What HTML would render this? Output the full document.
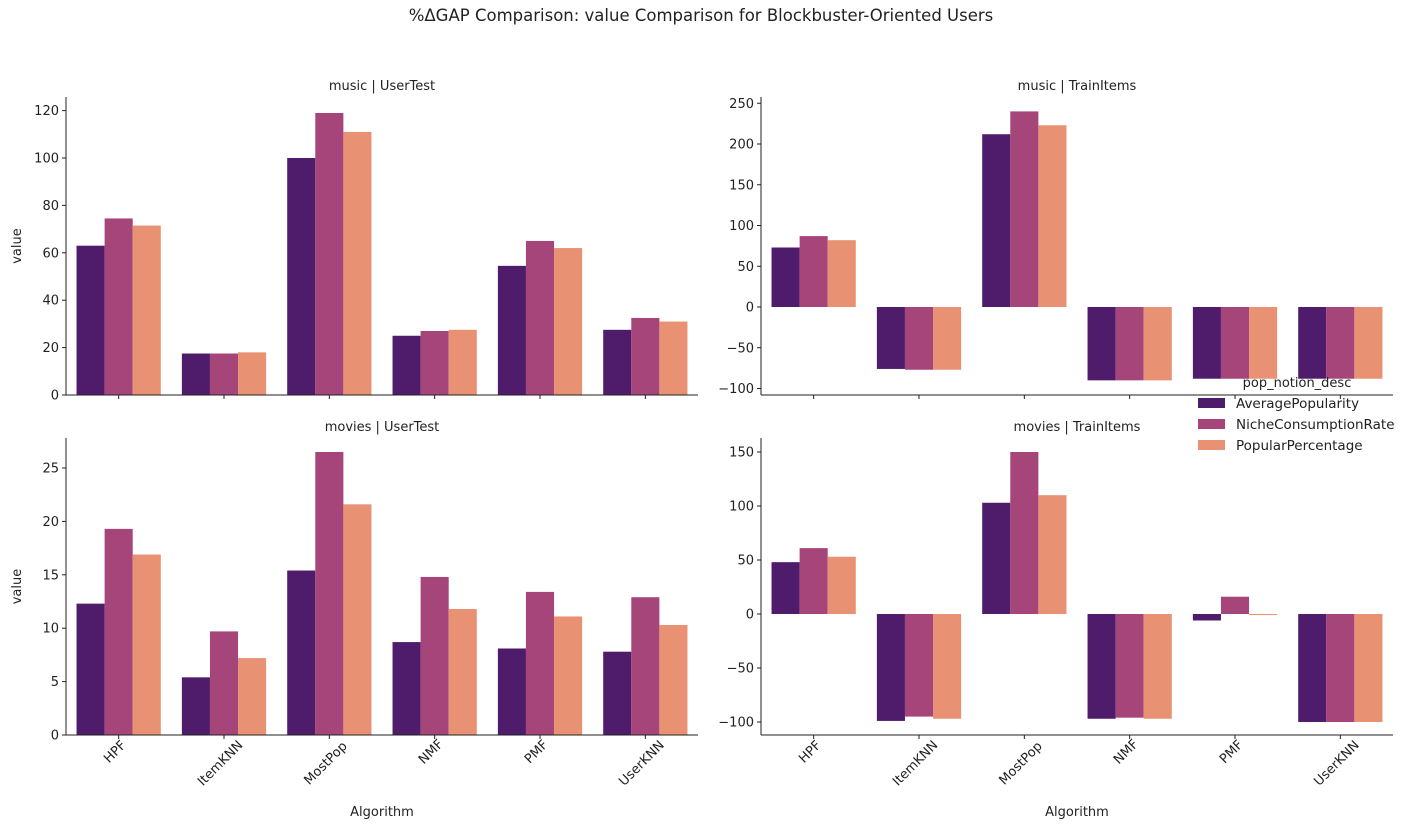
<!DOCTYPE html>
<html><head><meta charset="utf-8"><style>
body{margin:0;background:#fff;font-family:"DejaVu Sans",sans-serif;}
svg text{font-family:"DejaVu Sans","Liberation Sans",sans-serif;fill:#222;}
</style></head><body>
<svg id="c" width="1411" height="828">
<text x="701" y="21" font-size="16.5" text-anchor="middle">%ΔGAP Comparison: value Comparison for Blockbuster-Oriented Users</text>
</svg>
<script>
const categories=["HPF","ItemKNN","MostPop","NMF","PMF","UserKNN"];
const seriesNames=["AveragePopularity","NicheConsumptionRate","PopularPercentage"];
const colors=["#4f1c6b","#a6457a","#e89273"];
const musicUserTest=[[63,17.5,100,25,54.5,27.5],[74.5,17.5,119,27,65,32.5],[71.5,18,111,27.5,62,31]];
const musicTrainItems=[[73,-76,212,-90,-88,-88],[87,-77,240,-90,-88,-88],[82,-77,223,-90,-88,-88]];
const moviesUserTest=[[12.3,5.4,15.4,8.7,8.1,7.8],[19.3,9.7,26.5,14.8,13.4,12.9],[16.9,7.2,21.6,11.8,11.1,10.3]];
const moviesTrainItems=[[48,-99,103,-97,-6,-100],[61,-95,150,-96,16,-100],[53,-97,110,-97,-1,-100]];
const ticksA=[0,20,40,60,80,100,120];
const ticksB=[-100,-50,0,50,100,150,200,250];
const ticksC=[0,5,10,15,20,25];
const ticksD=[-100,-50,0,50,100,150];
const svg=document.getElementById('c');const NS="http://www.w3.org/2000/svg";
function mk(t,a,p){const e=document.createElementNS(NS,t);for(const k in a)e.setAttribute(k,a[k]);(p||svg).appendChild(e);return e;}
const FS=13;
const panels=[
 {title:"music | UserTest",data:musicUserTest,ticks:ticksA,x0:66,x1:698,top:97,bot:395,y0v:0,y0p:395,ymax:120,ymaxp:110.6,ylab:true,xlab:false},
 {title:"music | TrainItems",data:musicTrainItems,ticks:ticksB,x0:761,x1:1393,top:97,bot:395,y0v:0,y0p:307,ymax:200,ymaxp:144,ylab:false,xlab:false},
 {title:"movies | UserTest",data:moviesUserTest,ticks:ticksC,x0:66,x1:698,top:438,bot:735,y0v:0,y0p:735,ymax:25,ymaxp:468,ylab:true,xlab:true},
 {title:"movies | TrainItems",data:moviesTrainItems,ticks:ticksD,x0:761,x1:1393,top:438,bot:735,y0v:0,y0p:614,ymax:150,ymaxp:452,ylab:false,xlab:true}];
panels.forEach((p,pi)=>{
 const g=mk('g',{});
 const y=v=>p.y0p+(v-p.y0v)*(p.ymaxp-p.y0p)/(p.ymax-p.y0v);
 const cw=(p.x1-p.x0)/categories.length,bw=cw*0.8/3;
 p.data.forEach((s,si)=>s.forEach((v,ci)=>{
  const x=p.x0+ci*cw+cw*0.1+si*bw;const r=mk('rect',{x:x,y:Math.min(y(v),y(0)),width:bw,height:Math.abs(y(v)-y(0)),fill:colors[si]},g);
  
 }));
 mk('line',{x1:p.x0,x2:p.x0,y1:p.top,y2:p.bot,stroke:'#222','stroke-width':1},g);
 mk('line',{x1:p.x0,x2:p.x1,y1:p.bot,y2:p.bot,stroke:'#222','stroke-width':1},g);
 p.ticks.forEach(t=>{const yy=y(t);mk('line',{x1:p.x0-4,x2:p.x0,y1:yy,y2:yy,stroke:'#222'},g);
  const tx=mk('text',{x:p.x0-7,y:yy+4.5,'font-size':FS,'text-anchor':'end'},g);tx.textContent=t<0?'\u2212'+(-t):t;
  });
 categories.forEach((c,ci)=>{const xx=p.x0+(ci+0.5)*cw;mk('line',{x1:xx,x2:xx,y1:p.bot,y2:p.bot+4,stroke:'#222'},g);
  if(p.xlab){const L=c.length*FS*0.62;const d=L/2*0.707;const cx=xx-4,cy=p.bot+8+d;
   const tx=mk('text',{x:cx,y:cy+4.5,'font-size':FS,'text-anchor':'middle',transform:`rotate(-45 ${cx} ${cy})`},g);tx.textContent=c;
   }});
 const tt=mk('text',{x:(p.x0+p.x1)/2,y:p.top-7,'font-size':FS,'text-anchor':'middle'},g);tt.textContent=p.title;
 
 if(p.ylab){const yl=mk('text',{x:21,y:(p.top+p.bot)/2,'font-size':FS,'text-anchor':'middle',transform:`rotate(-90 21 ${(p.top+p.bot)/2})`},g);yl.textContent='value';
  }
 if(p.xlab){const xl=mk('text',{x:(p.x0+p.x1)/2,y:816,'font-size':FS,'text-anchor':'middle'},g);xl.textContent='Algorithm';
  }
});
const lg=mk('g',{});
const lt=mk('text',{x:1297,y:387,'font-size':FS,'text-anchor':'middle'},lg);lt.textContent='pop_notion_desc';
seriesNames.forEach((n,i)=>{const yy=403+i*21;mk('rect',{x:1198,y:yy-5,width:27,height:10,fill:colors[i]},lg);
 const t=mk('text',{x:1236,y:yy+5,'font-size':13.5},lg);t.textContent=n;});
</script>
</body></html>
